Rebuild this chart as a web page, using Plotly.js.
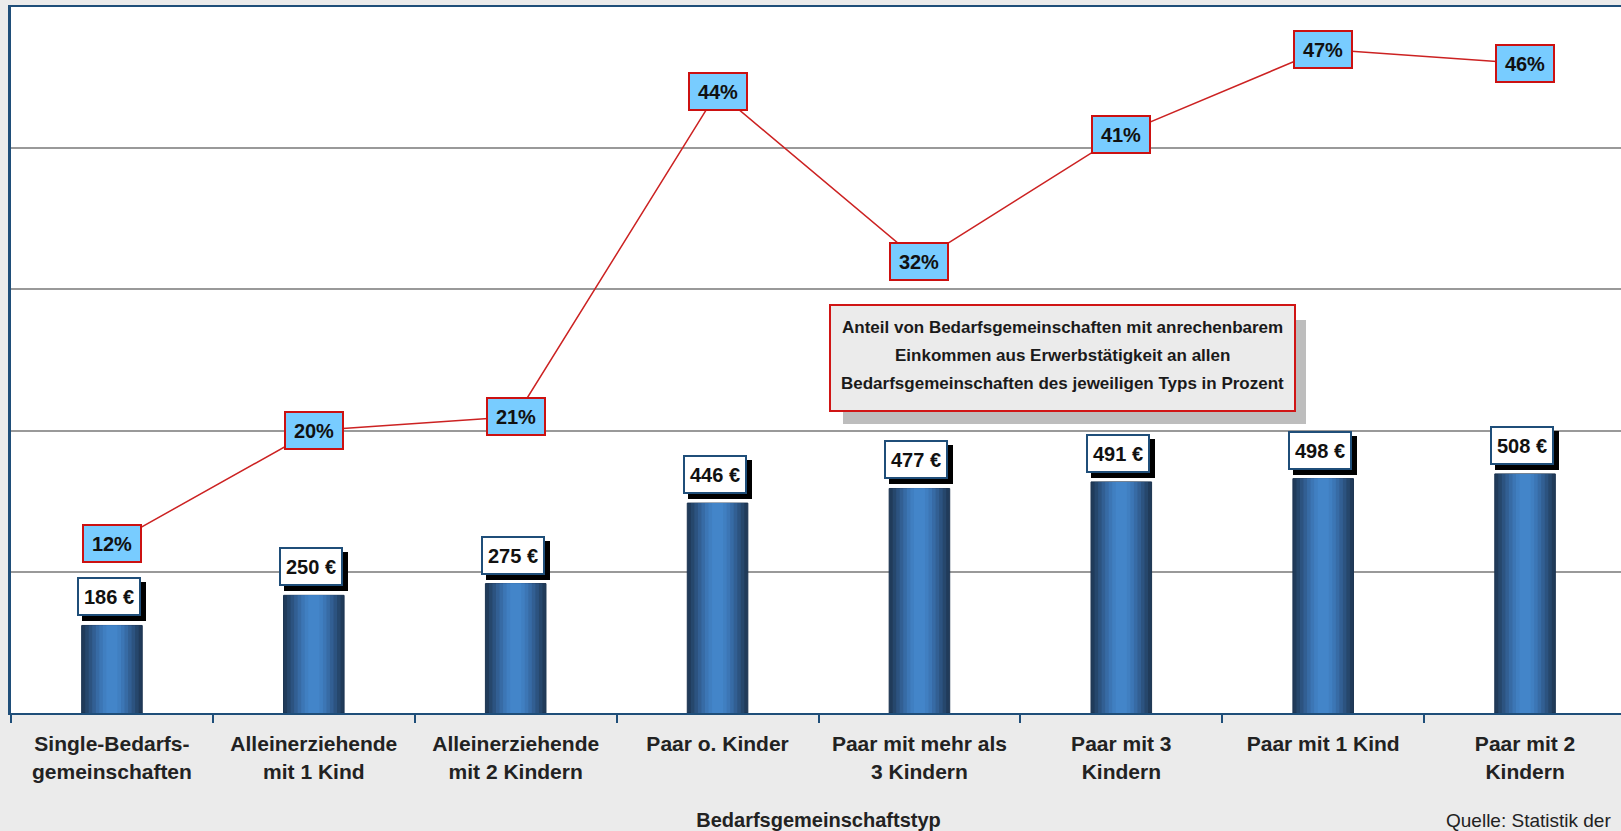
<!DOCTYPE html>
<html>
<head>
<meta charset="utf-8">
<script src="https://cdn.plot.ly/plotly-3.0.1.min.js"></script>
<style>
html, body { margin: 0; padding: 0; background: #ebebeb; overflow: hidden; }
#grafik { width: 1626px; height: 831px; }
</style>
</head>
<body>
<div id="grafik"></div>
<script>
// Daten
var kategorien = [
    'Single-Bedarfs-<br>gemeinschaften',
    'Alleinerziehende<br>mit 1 Kind',
    'Alleinerziehende<br>mit 2 Kindern',
    'Paar o. Kinder',
    'Paar mit mehr als<br>3 Kindern',
    'Paar mit 3<br>Kindern',
    'Paar mit 1 Kind',
    'Paar mit 2<br>Kindern'
];
var einkommen = [186, 250, 275, 446, 477, 491, 498, 508];      // Euro
var anteilProzent = [12, 20, 21, 44, 32, 41, 47, 46];          // Prozent

var boxZeilen = [
    'Anteil von Bedarfsgemeinschaften mit anrechenbarem',
    'Einkommen aus Erwerbstätigkeit an allen',
    'Bedarfsgemeinschaften des jeweiligen Typs in Prozent'
];
var quelleText = 'Quelle: Statistik der';
var achsenTitel = 'Bedarfsgemeinschaftstyp';

var schrift = "'Liberation Sans', Arial, sans-serif";

function initGrafik() {
    // Balken mit Farbverlauf: mehrere ueberlagerte Balken, innen heller
    var schichten = [
        {breite: 0.300, farbe: '#203b5a'},
        {breite: 0.265, farbe: '#26476c'},
        {breite: 0.230, farbe: '#2c5380'},
        {breite: 0.195, farbe: '#325f93'},
        {breite: 0.160, farbe: '#376ba5'},
        {breite: 0.125, farbe: '#3c76b5'},
        {breite: 0.090, farbe: '#407fc1'},
        {breite: 0.055, farbe: '#4385c9'}
    ];

    var data = schichten.map(function(s, i) {
        return {
            type: 'bar',
            x: kategorien,
            y: einkommen,
            width: s.breite,
            marker: {color: s.farbe, line: {width: i === 0 ? 1 : 0, color: '#1b3350'}},
            hoverinfo: 'skip',
            showlegend: false
        };
    });

    // Linie Anteil in Prozent
    data.push({
        type: 'scatter',
        mode: 'lines',
        x: kategorien,
        y: anteilProzent,
        yaxis: 'y2',
        line: {color: '#cc2222', width: 1.5},
        hoverinfo: 'skip',
        showlegend: false
    });

    var annotations = [];

    // Werte an den Balken (mit schwarzem Schatten)
    einkommen.forEach(function(v, i) {
        annotations.push({
            x: kategorien[i], y: v, xref: 'x', yref: 'y',
            text: ' ', showarrow: false, yanchor: 'bottom',
            xshift: 2, yshift: 4,
            width: 58, height: 33, borderpad: 1, borderwidth: 2,
            bgcolor: '#000000', bordercolor: '#000000'
        });
        annotations.push({
            x: kategorien[i], y: v, xref: 'x', yref: 'y',
            text: v + ' €', showarrow: false, yanchor: 'bottom',
            xshift: -3, yshift: 9,
            width: 58, height: 33, borderpad: 1, borderwidth: 2,
            bgcolor: '#ffffff', bordercolor: '#1f4e79',
            font: {family: schrift, size: 20, weight: 'bold', color: '#111111'}
        });
    });

    // Prozentwerte auf der Linie
    anteilProzent.forEach(function(p, i) {
        annotations.push({
            x: kategorien[i], y: p, xref: 'x', yref: 'y2',
            text: p + '%', showarrow: false,
            width: 54, height: 33, borderpad: 1, borderwidth: 2,
            bgcolor: '#78ccff', bordercolor: '#cc1111',
            font: {family: schrift, size: 20, weight: 'bold', color: '#111111'}
        });
    });

    // Erklaerungsbox mit grauem Schatten
    var boxX = 0.651, boxY = 0.503;
    annotations.push({
        xref: 'paper', yref: 'paper', x: boxX, y: boxY,
        text: ' ', showarrow: false, xshift: 12, yshift: -14,
        width: 463, height: 104, borderpad: 0, borderwidth: 0,
        bgcolor: '#bdbdbd'
    });
    annotations.push({
        xref: 'paper', yref: 'paper', x: boxX, y: boxY,
        text: ' ', showarrow: false,
        width: 463, height: 104, borderpad: 0, borderwidth: 2,
        bgcolor: '#ebebeb', bordercolor: '#d01515'
    });
    var zeilenShift = [30, 2, -26];
    boxZeilen.forEach(function(z, i) {
        annotations.push({
            xref: 'paper', yref: 'paper', x: boxX, y: boxY, yshift: zeilenShift[i],
            text: z, showarrow: false,
            font: {family: schrift, size: 17, weight: 'bold', color: '#1a1a1a'}
        });
    });

    // Quelle
    annotations.push({
        xref: 'paper', yref: 'paper', x: 0.992, y: -0.152, xanchor: 'right', yanchor: 'middle',
        text: quelleText, showarrow: false,
        font: {family: schrift, size: 19, color: '#222222'}
    });

    var layout = {
        width: 1626,
        height: 831,
        autosize: false,
        margin: {l: 11, r: 0, t: 7, b: 118},
        paper_bgcolor: '#ebebeb',
        plot_bgcolor: '#ffffff',
        barmode: 'overlay',
        xaxis: {
            type: 'category',
            showline: true, linecolor: '#1f4e79', linewidth: 2, mirror: true,
            ticks: 'outside', tickson: 'boundaries', ticklen: 8, tickwidth: 2, tickcolor: '#1f4e79',
            ticklabelstandoff: 11,
            tickfont: {family: schrift, size: 21, weight: 'bold', color: '#222222'},
            title: {text: achsenTitel, standoff: 31, font: {family: schrift, size: 20, weight: 'bold', color: '#222222'}},
            fixedrange: true
        },
        yaxis: {
            range: [0, 1500], dtick: 300,
            showgrid: true, gridcolor: '#999999', gridwidth: 2,
            zeroline: false, showticklabels: false,
            showline: true, linecolor: '#1f4e79', linewidth: 3,
            fixedrange: true
        },
        yaxis2: {
            range: [0, 50], overlaying: 'y', side: 'right',
            showgrid: false, zeroline: false, showticklabels: false, showline: false,
            fixedrange: true
        },
        annotations: annotations,
        showlegend: false
    };

    Plotly.newPlot('grafik', data, layout, {displayModeBar: false, staticPlot: true});
}

document.addEventListener('DOMContentLoaded', function() {
    initGrafik();
});
</script>
</body>
</html>
